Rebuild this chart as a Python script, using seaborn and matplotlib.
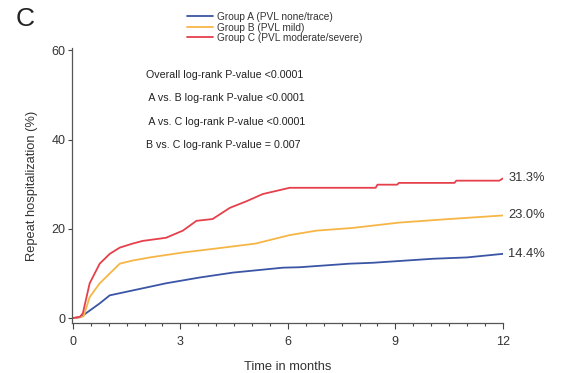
import pandas as pd
import numpy as np
import matplotlib.pyplot as plt
from matplotlib.ticker import MultipleLocator
import seaborn as sns

# cumulative incidence (months, %)
groups = ['Group A (PVL none/trace)', 'Group B (PVL mild)', 'Group C (PVL moderate/severe)']
colors = ['#3b55a6', '#f6b646', '#e5404b']

time_a = [0, 0.2, 0.3, 0.75, 1.03, 1.67, 2.6, 3.54, 4.47, 5.86, 6.33, 7.73, 8.37, 10.05, 11.0, 12]
risk_a = [0, 0.2, 0.7, 3.3, 5.1, 6.2, 7.8, 9.1, 10.2, 11.3, 11.4, 12.2, 12.4, 13.3, 13.6, 14.4]

time_b = [0, 0.2, 0.3, 0.47, 0.75, 1.03, 1.31, 1.67, 2.15, 3.07, 4.0, 5.1, 6.05, 6.8, 7.8, 9.1, 10.5, 12]
risk_b = [0, 0.2, 0.4, 4.7, 7.8, 10.0, 12.2, 12.9, 13.6, 14.7, 15.6, 16.7, 18.6, 19.6, 20.2, 21.4, 22.2, 23.0]

time_c = [0, 0.2, 0.28, 0.47, 0.75, 1.03, 1.31, 1.67, 1.95, 2.6, 3.07, 3.45, 3.9, 4.38, 4.85, 5.3,
          6.05, 8.45, 8.5, 9.05, 9.1, 10.65, 10.7, 11.9, 12]
risk_c = [0, 0.3, 1.1, 7.8, 12.2, 14.4, 15.8, 16.7, 17.3, 18.0, 19.6, 21.8, 22.2, 24.7, 26.2, 27.8,
          29.2, 29.2, 29.9, 29.9, 30.3, 30.3, 30.8, 30.8, 31.3]

end_labels = ['14.4%', '23.0%', '31.3%']
pvalues = ['Overall log-rank P-value <0.0001',
           ' A vs. B log-rank P-value <0.0001',
           ' A vs. C log-rank P-value <0.0001',
           'B vs. C log-rank P-value = 0.007']

df = pd.concat([
    pd.DataFrame({'time': t, 'risk': r, 'group': g})
    for t, r, g in zip([time_a, time_b, time_c], [risk_a, risk_b, risk_c], groups)
])

sns.set_style('ticks')
plt.rcParams['font.family'] = ['Liberation Sans', 'DejaVu Sans']

fig = plt.figure(figsize=(5.65, 3.73), dpi=100)
ax = fig.add_axes([0.127, 0.134, 0.763, 0.737])

sns.lineplot(data=df, x='time', y='risk', hue='group', palette=colors,
             hue_order=groups, linewidth=1.3, ax=ax, estimator=None, sort=False)

ax.set_xlim(-0.03, 12)
ax.set_ylim(-1.1, 60.5)
ax.set_xticks([0, 3, 6, 9, 12])
ax.set_yticks([0, 20, 40, 60])
ax.xaxis.set_minor_locator(MultipleLocator(0.5))
ax.tick_params(axis='both', which='major', labelsize=9, length=4, width=0.8,
               color='#444444', labelcolor='#333333')
ax.tick_params(axis='x', which='major', pad=5)
ax.tick_params(axis='y', which='major', pad=1.5, length=3)
ax.tick_params(axis='x', which='minor', length=2.5, width=0.8, color='#444444')
for s in ['left', 'bottom']:
    ax.spines[s].set_color('#555555')
    ax.spines[s].set_linewidth(0.9)
sns.despine(ax=ax)

ax.set_xlabel('Time in months', fontsize=9.3, color='#333333', labelpad=10)
ax.set_ylabel('Repeat hospitalization (%)', fontsize=9.3, color='#333333', labelpad=10)

# end-of-curve labels
for lab, r in zip(end_labels, [risk_a[-1], risk_b[-1], risk_c[-1]]):
    ax.text(12.15, r, lab, fontsize=9.3, color='#333333', va='center', ha='left', clip_on=False)

# p-values
for i, txt in enumerate(pvalues):
    ax.text(2.05, 54.5 - i * 5.25, txt, fontsize=7.7, color='#222222', va='center', ha='left')

leg = ax.legend(loc='lower left', bbox_to_anchor=(0.255, 1.0), frameon=False, fontsize=7.3,
                handlelength=2.6, handletextpad=0.4, labelspacing=0.05, borderpad=0)
for t in leg.get_texts():
    t.set_color('#333333')

fig.text(0.028, 0.948, 'C', fontsize=19, color='#222222', va='center', ha='left')

fig.savefig('out.png', dpi=100)
